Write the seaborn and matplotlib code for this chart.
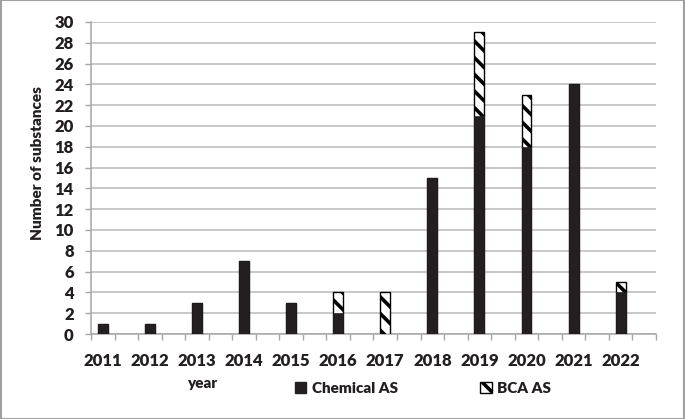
import matplotlib
matplotlib.use("Agg")
import matplotlib.pyplot as plt
from matplotlib.patches import Patch, Rectangle
from matplotlib.ticker import FixedLocator
import seaborn as sns
import pandas as pd
import numpy as np

years = ["2011", "2012", "2013", "2014", "2015", "2016",
         "2017", "2018", "2019", "2020", "2021", "2022"]
chemical_as = [1, 1, 3, 7, 3, 2, 0, 15, 21, 18, 24, 4]
bca_as = [0, 0, 0, 0, 0, 2, 4, 0, 8, 5, 0, 1]

sns.set_theme(style="white")
plt.rcParams["font.family"] = ["Lato", "DejaVu Sans"]
plt.rcParams["font.weight"] = "heavy"
plt.rcParams["hatch.linewidth"] = 2.6

W = "heavy"
TXT = "#231f20"
DARK = "#231f20"
GRID = "#bfbfbf"

df = pd.DataFrame({
    "year": years,
    "chem": chemical_as,
    "total": [c + b for c, b in zip(chemical_as, bca_as)],
})

fig = plt.figure(figsize=(6.85, 4.19), dpi=100)
ax = fig.add_axes([91 / 685, (419 - 334) / 419, 565 / 685, 312 / 419])

sns.barplot(data=df, x="year", y="total", order=years, color="white",
            edgecolor="black", linewidth=1.0, hatch="\\\\", width=0.21,
            saturation=1, errorbar=None, ax=ax, zorder=3)
sns.barplot(data=df, x="year", y="chem", order=years, color=DARK,
            edgecolor=DARK, linewidth=0.5, width=0.21,
            saturation=1, errorbar=None, ax=ax, zorder=4)

ax.set_xlim(-0.25, 11.75)
ax.set_ylim(0, 30)
ax.set_yticks(np.arange(0, 31, 2))
ax.yaxis.grid(True, color=GRID, linewidth=1.2, zorder=0)
ax.set_axisbelow(True)
ax.xaxis.set_major_locator(FixedLocator(range(len(years))))
ax.set_xticklabels(years)
ax.xaxis.set_minor_locator(FixedLocator(np.arange(-0.25, 11.76, 0.5)))

for s in ["top", "right"]:
    ax.spines[s].set_visible(False)
for s in ["left", "bottom"]:
    ax.spines[s].set_color("#a6a6a6")
    ax.spines[s].set_linewidth(1.1)

ax.tick_params(axis="x", which="major", length=0, pad=13.5,
               labelsize=12, labelcolor=TXT)
ax.tick_params(axis="x", which="minor", length=4.5, width=1.0,
               color="#a6a6a6", direction="out", bottom=True)
ax.tick_params(axis="y", which="major", length=4.5, width=1.0,
               color="#a6a6a6", direction="out", left=True, pad=8,
               labelsize=12, labelcolor=TXT)
for lab in ax.get_xticklabels() + ax.get_yticklabels():
    lab.set_fontweight(W)

ax.set_xlabel("")
ax.set_ylabel("")
fig.text(38 / 685, 1 - 163 / 419, "Number of substances", rotation=90,
         ha="center", va="center", fontsize=11, fontweight=W, color=TXT)
fig.text(202 / 685, 1 - 383 / 419, "year", ha="center", va="center",
         fontsize=11, fontweight=W, color=TXT)

handles = [
    Patch(facecolor=DARK, edgecolor=DARK, label="Chemical AS"),
    Patch(facecolor="white", edgecolor="black", hatch="\\\\", label="BCA AS"),
]
leg = fig.legend(handles=handles, loc="center left",
                 bbox_to_anchor=(295 / 685, 1 - 388 / 419),
                 ncol=2, frameon=False, borderpad=0, borderaxespad=0,
                 handlelength=0.75, handleheight=0.75, handletextpad=0.35,
                 columnspacing=5.4, prop={"size": 11, "weight": W})
for t in leg.get_texts():
    t.set_color(TXT)

fig.patches.append(Rectangle((0.001, 0.001), 0.998, 0.998,
                             transform=fig.transFigure, fill=False,
                             edgecolor="#a0a0a0", linewidth=1.5))

fig.savefig("out.png", dpi=100)
